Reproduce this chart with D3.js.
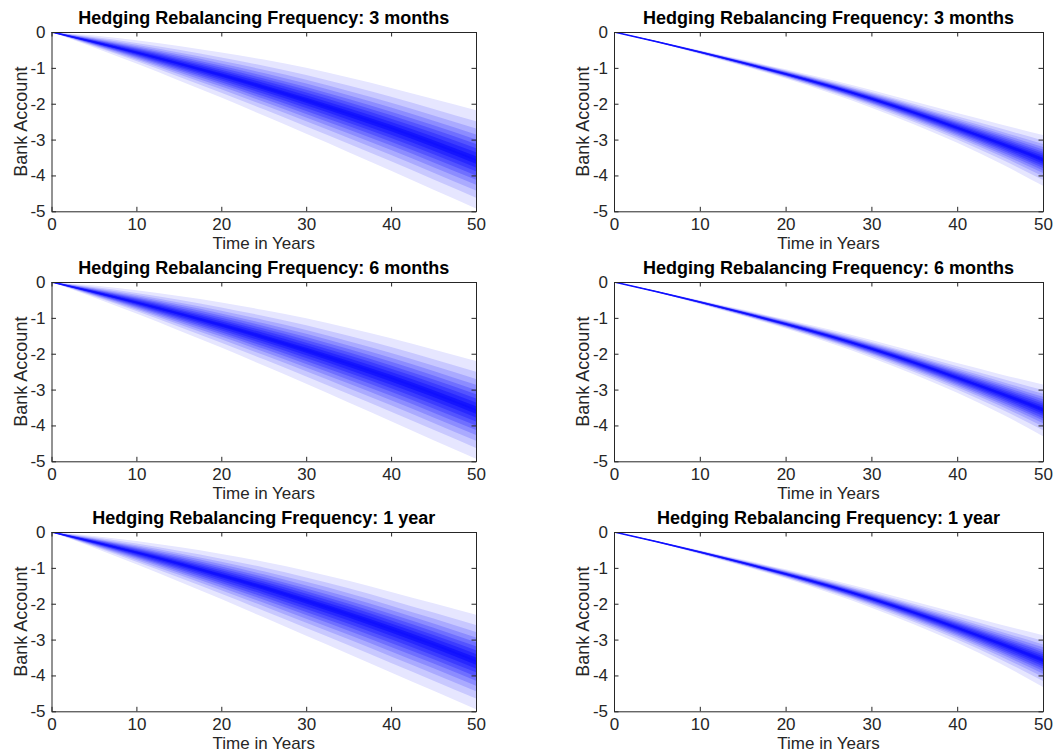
<!DOCTYPE html>
<html><head><meta charset="utf-8">
<script src="https://cdn.jsdelivr.net/npm/d3@7/dist/d3.min.js"></script>
<style>
body{margin:0;background:#fff}
svg{display:block}
text{font-family:"Liberation Sans",Arial,Helvetica,sans-serif;fill:#262626}
</style>
</head><body>
<svg id="chart" width="1055" height="753"></svg>
<script>
// ---------- data ----------
const years = [0, 5, 10, 15, 20, 25, 30, 35, 40, 45, 50];
const xTicks = [0, 10, 20, 30, 40, 50];
const yTicks = [0, -1, -2, -3, -4, -5];
const frequencies = ["3 months", "6 months", "1 year"];

// left column
const median3mA = [0, -0.28, -0.57, -0.88, -1.20, -1.54, -1.90, -2.28, -2.68, -3.11, -3.57];
const upper3mA  = [0, -0.10, -0.23, -0.39, -0.57, -0.77, -1.00, -1.27, -1.56, -1.87, -2.18];
const lower3mA  = [0, -0.43, -0.88, -1.35, -1.83, -2.33, -2.84, -3.35, -3.87, -4.40, -4.92];

const median6mA = [0, -0.28, -0.57, -0.88, -1.20, -1.54, -1.90, -2.28, -2.68, -3.11, -3.57];
const upper6mA  = [0, -0.10, -0.23, -0.39, -0.57, -0.78, -1.01, -1.28, -1.57, -1.88, -2.20];
const lower6mA  = [0, -0.43, -0.88, -1.35, -1.83, -2.33, -2.84, -3.36, -3.88, -4.41, -4.93];

const median1yA = [0, -0.28, -0.57, -0.88, -1.21, -1.55, -1.92, -2.30, -2.71, -3.14, -3.60];
const upper1yA  = [0, -0.11, -0.25, -0.42, -0.61, -0.83, -1.08, -1.36, -1.67, -1.99, -2.31];
const lower1yA  = [0, -0.44, -0.90, -1.38, -1.87, -2.38, -2.89, -3.40, -3.92, -4.43, -4.94];

// right column
const median3mB = [0, -0.27, -0.56, -0.86, -1.17, -1.50, -1.86, -2.25, -2.67, -3.10, -3.56];
const upper3mB  = [0, -0.25, -0.51, -0.77, -1.04, -1.32, -1.62, -1.94, -2.26, -2.57, -2.87];
const lower3mB  = [0, -0.29, -0.61, -0.95, -1.30, -1.69, -2.11, -2.58, -3.09, -3.66, -4.29];

const median6mB = [0, -0.27, -0.56, -0.86, -1.17, -1.50, -1.86, -2.25, -2.67, -3.10, -3.56];
const upper6mB  = [0, -0.25, -0.51, -0.77, -1.04, -1.32, -1.62, -1.94, -2.26, -2.57, -2.86];
const lower6mB  = [0, -0.29, -0.61, -0.95, -1.30, -1.69, -2.11, -2.58, -3.09, -3.66, -4.30];

const median1yB = [0, -0.27, -0.56, -0.86, -1.17, -1.50, -1.86, -2.25, -2.67, -3.11, -3.57];
const upper1yB  = [0, -0.25, -0.51, -0.77, -1.04, -1.32, -1.62, -1.94, -2.26, -2.58, -2.88];
const lower1yB  = [0, -0.29, -0.61, -0.95, -1.30, -1.69, -2.11, -2.58, -3.09, -3.67, -4.32];

// percentile bands (5/95, 10/90, ... 45/55) as share of the outer 5-95 spread
const bandShares = [1, 0.779, 0.630, 0.512, 0.410, 0.319, 0.234, 0.154, 0.076];
const bandColors = ["#e6e6ff", "#c8c8ff", "#aaaaff", "#8c8cff", "#6f6fff", "#5454ff", "#3c3cff", "#2727ff", "#1515ff"];

// ---------- layout ----------
const colX = [[51.5, 476], [614, 1043]];
const rowY = [[32, 211.3], [282, 461.3], [532, 711.3]];

const panels = [
  {r: 0, c: 0, f: frequencies[0], med: median3mA, up: upper3mA, lo: lower3mA},
  {r: 0, c: 1, f: frequencies[0], med: median3mB, up: upper3mB, lo: lower3mB},
  {r: 1, c: 0, f: frequencies[1], med: median6mA, up: upper6mA, lo: lower6mA},
  {r: 1, c: 1, f: frequencies[1], med: median6mB, up: upper6mB, lo: lower6mB},
  {r: 2, c: 0, f: frequencies[2], med: median1yA, up: upper1yA, lo: lower1yA},
  {r: 2, c: 1, f: frequencies[2], med: median1yB, up: upper1yB, lo: lower1yB}
];

const svg = d3.select("#chart");
const axisColor = "#262626";
const fontSize = "17px";

panels.forEach((p, pi) => {
  const [x0, x1] = colX[p.c];
  const [y0, y1] = rowY[p.r];
  const x = d3.scaleLinear().domain([0, 50]).range([x0, x1]);
  const y = d3.scaleLinear().domain([-5, 0]).range([y1, y0]);
  const g = svg.append("g");

  const clipId = "clip" + pi;
  g.append("clipPath").attr("id", clipId).append("rect")
    .attr("x", x0).attr("y", y0).attr("width", x1 - x0).attr("height", y1 - y0);

  const fan = g.append("g").attr("clip-path", `url(#${clipId})`);
  bandShares.forEach((s, bi) => {
    const area = d3.area()
      .x((d, i) => x(years[i]))
      .y0((d, i) => y(p.med[i] + s * (p.lo[i] - p.med[i])))
      .y1((d, i) => y(p.med[i] + s * (p.up[i] - p.med[i])))
      .curve(d3.curveMonotoneX);
    fan.append("path").datum(years).attr("d", area).attr("fill", bandColors[bi]);
  });
  fan.append("path").datum(years)
    .attr("d", d3.line().x((d, i) => x(years[i])).y((d, i) => y(p.med[i])).curve(d3.curveMonotoneX))
    .attr("fill", "none").attr("stroke", "#1010ff").attr("stroke-width", 1.6);

  // axes (box with inward ticks on all sides)
  const tl = 4.5;
  const bottom = g.append("g").attr("transform", `translate(0,${y1})`)
    .call(d3.axisBottom(x).tickValues(xTicks).tickSizeInner(-tl).tickSizeOuter(0).tickPadding(6).tickFormat(d3.format("d")));
  const top = g.append("g").attr("transform", `translate(0,${y0})`)
    .call(d3.axisTop(x).tickValues(xTicks).tickSizeInner(-tl).tickSizeOuter(0).tickFormat(""));
  const left = g.append("g").attr("transform", `translate(${x0},0)`)
    .call(d3.axisLeft(y).tickValues(yTicks).tickSizeInner(-tl).tickSizeOuter(0).tickPadding(6).tickFormat(d => d3.format("d")(d).replace("−", "-")));
  const right = g.append("g").attr("transform", `translate(${x1},0)`)
    .call(d3.axisRight(y).tickValues(yTicks).tickSizeInner(-tl).tickSizeOuter(0).tickFormat(""));
  [bottom, top, left, right].forEach(a => {
    a.select(".domain").attr("stroke", axisColor).attr("stroke-width", 1);
    a.selectAll(".tick line").attr("stroke", axisColor).attr("stroke-width", 1);
    a.selectAll(".tick text").attr("fill", axisColor).style("font-size", fontSize)
      .style("font-family", '"Liberation Sans",Arial,sans-serif');
  });
  bottom.selectAll(".tick text").attr("y", 0).attr("dy", null).attr("dominant-baseline", null)
    .attr("transform", "translate(0,18.5)");

  // titles and labels
  g.append("text").attr("x", (x0 + x1) / 2).attr("y", y0 - 8)
    .attr("text-anchor", "middle").style("font-size", "18px").style("font-weight", "bold")
    .style("fill", "#000").text("Hedging Rebalancing Frequency: " + p.f);
  g.append("text").attr("x", (x0 + x1) / 2).attr("y", y1 + 37.5)
    .attr("text-anchor", "middle").style("font-size", fontSize).text("Time in Years");
  g.append("text").attr("transform", `translate(${x0 - 25},${(y0 + y1) / 2}) rotate(-90)`)
    .attr("text-anchor", "middle").style("font-size", "18px").text("Bank Account");
});
</script>
</body></html>
